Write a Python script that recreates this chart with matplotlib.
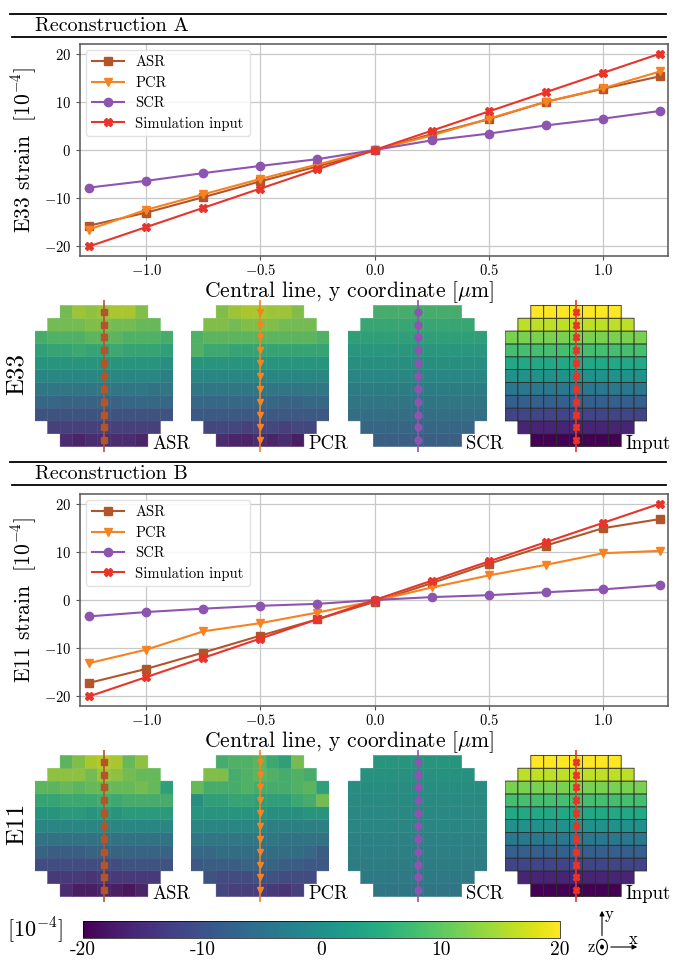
import numpy as np
import matplotlib
matplotlib.use('Agg')
import matplotlib.pyplot as plt
from matplotlib.lines import Line2D
from matplotlib.patches import Circle, FancyArrowPatch
from matplotlib.colors import ListedColormap

plt.rcParams['font.family'] = 'serif'
plt.rcParams['font.serif'] = ['cmr10']
plt.rcParams['mathtext.fontset'] = 'cm'
plt.rcParams['axes.formatter.use_mathtext'] = True

W, H = 676, 961

# ---- line chart data ----
y_coord = [-1.25, -1.0, -0.75, -0.5, -0.25, 0.0, 0.25, 0.5, 0.75, 1.0, 1.25]
sim_input = [-20, -16, -12, -8, -4, 0, 4, 8, 12, 16, 20]

asr_a = [-15.7, -13.0, -9.8, -6.5, -3.4, -0.1, 3.3, 6.4, 10.0, 12.7, 15.3]
pcr_a = [-16.5, -12.4, -9.2, -6.0, -3.0, 0.0, 3.0, 6.5, 10.0, 12.8, 16.3]
scr_a = [-7.8, -6.4, -4.8, -3.3, -1.9, 0.0, 2.0, 3.4, 5.1, 6.5, 8.1]

asr_b = [-17.2, -14.3, -10.9, -7.4, -4.0, -0.4, 3.5, 7.5, 11.3, 14.9, 16.8]
pcr_b = [-13.1, -10.3, -6.5, -4.8, -2.6, -0.2, 2.6, 5.1, 7.3, 9.7, 10.2]
scr_b = [-3.4, -2.5, -1.8, -1.2, -0.8, 0.0, 0.6, 1.0, 1.6, 2.2, 3.1]

# ---- strain maps, rows from top (y=1.25) to bottom, only cells inside the disk ----
map_a_asr = [
    [12, 15, 14, 15, 16, 16, 13],
    [12, 12, 12, 13, 13, 12, 12, 11, 11],
    [8, 9, 9, 9, 10, 10, 10, 9, 9, 9, 8],
    [5, 6, 6, 7, 6, 6, 7, 6, 6, 6, 5],
    [3, 3, 3, 3, 3, 3, 3, 3, 3, 3, 2],
    [0, 0, 0, 0, 0, 0, 0, 0, 0, 0, -1],
    [-3, -3, -3, -3, -3, -3, -3, -3, -3, -4, -3],
    [-6, -6, -7, -7, -7, -7, -7, -6, -6, -6, -6],
    [-10, -10, -10, -10, -10, -10, -10, -10, -10, -10, -10],
    [-13, -13, -13, -13, -13, -13, -13, -13, -13],
    [-16, -17, -16, -16, -16, -16, -17],
]
map_a_pcr = [
    [13, 15, 16, 16, 15, 15, 13],
    [13, 13, 12, 13, 13, 13, 12, 12, 12],
    [9, 10, 10, 10, 10, 10, 10, 10, 10, 10, 9],
    [9, 7, 7, 6, 6, 6, 6, 6, 6, 6, 6],
    [3, 3, 3, 3, 3, 3, 3, 3, 3, 3, 3],
    [0, 0, 0, 0, 0, 0, 0, 0, 0, 0, 0],
    [-3, -3, -3, -3, -3, -3, -3, -3, -3, -3, -3],
    [-6, -6, -6, -6, -6, -6, -6, -7, -7, -6, -6],
    [-9, -9, -9, -9, -9, -9, -9, -9, -9, -9, -9],
    [-12, -12, -12, -13, -12, -12, -13, -12, -12],
    [-16, -17, -17, -16, -17, -16, -18],
]
map_b_asr = [
    [10, 13, 16, 17, 16, 11, 14],
    [14, 14, 14, 12, 15, 14, 12, 11, 11],
    [10, 10, 11, 10, 11, 11, 11, 11, 12, 11, 5],
    [6, 6, 7, 7, 7, 8, 7, 8, 8, 8, 8],
    [3, 3, 4, 4, 3, 4, 3, 4, 4, 4, 4],
    [0, 0, 0, 0, 0, 0, 0, 0, 0, 0, 0],
    [-4, -4, -4, -4, -4, -4, -4, -4, -4, -4, -4],
    [-7, -8, -8, -8, -7, -7, -7, -7, -7, -7, -7],
    [-11, -11, -11, -11, -11, -11, -11, -10, -10, -10, -10],
    [-14, -14, -14, -15, -14, -14, -14, -14, -14],
    [-16, -18, -18, -17, -18, -19, -17],
]
map_b_pcr = [
    [8, 9, 9, 10, 7, 5, 12],
    [13, 13, 8, 9, 10, 9, 8, 9, 8],
    [11, 8, 8, 8, 9, 8, 8, 8, 9, 10, 5],
    [2, 5, 5, 6, 6, 5, 5, 5, 7, 8, 12],
    [3, 3, 3, 3, 3, 3, 2, 2, 2, 3, 3],
    [0, 0, 0, 0, 0, 0, -1, -1, -1, -1, -1],
    [-3, -3, -3, -3, -3, -3, -3, -4, -4, -4, -4],
    [-6, -6, -5, -5, -5, -5, -5, -5, -5, -6, -8],
    [-9, -8, -8, -8, -7, -7, -7, -8, -8, -9, -9],
    [-10, -11, -11, -11, -10, -10, -11, -11, -11],
    [-12, -13, -13, -13, -14, -15, -13],
]
row_len = [7, 9, 11, 11, 11, 11, 11, 11, 11, 9, 7]

c_asr = '#b3552b'
c_pcr = '#f7821f'
c_scr = '#8e55b0'
c_sim = '#e8342a'

# reconstructed maps look a bit duller than the input map
vir = plt.cm.viridis(np.linspace(0, 1, 256))
dull = vir.copy()
dull[:, :3] = 0.82 * vir[:, :3] + 0.18 * 0.33
cmap_dull = ListedColormap(dull)

fig = plt.figure(figsize=(W / 100, H / 100), dpi=100)


def box(l, t, r, b):
    return [l / W, 1 - b / H, (r - l) / W, (b - t) / H]


def hline(y, x0=10, x1=666):
    fig.add_artist(Line2D([x0 / W, x1 / W], [1 - y / H, 1 - y / H], color='k', lw=1.3))


def header(top, label):
    hline(top)
    fig.text(35 / W, 1 - (top + 12) / H, label, fontsize=14.5, va='center', ha='left')
    hline(top + 23, 12)


def line_chart(rect, comp, asr, pcr, scr):
    ax = fig.add_axes(rect)
    ax.plot(y_coord, asr, color=c_asr, marker='s', ms=6, lw=1.5, label='ASR')
    ax.plot(y_coord, pcr, color=c_pcr, marker='v', ms=6, lw=1.5, label='PCR')
    ax.plot(y_coord, scr, color=c_scr, marker='o', ms=6, lw=1.5, label='SCR')
    ax.plot(y_coord, sim_input, color=c_sim, marker='X', ms=6, lw=1.5, label='Simulation input')
    ax.set_xlim(-1.29, 1.285)
    ax.set_ylim(-22, 22)
    ax.set_xticks([-1.0, -0.5, 0.0, 0.5, 1.0])
    ax.set_yticks([-20, -10, 0, 10, 20])
    ax.grid(True, color='#c8c8c8', lw=0.9)
    ax.set_axisbelow(True)
    for s in ax.spines.values():
        s.set_color('#555555')
        s.set_linewidth(1.1)
    ax.tick_params(labelsize=10.5, color='#555555', length=3)
    ax.tick_params(axis='x', pad=2)
    ax.set_xlabel(r'Central line, y coordinate [$\mu$m]', fontsize=15.5)
    ax.xaxis.set_label_coords(0.458, -0.108)
    ax.set_ylabel(comp + r' strain  [10$^{-4}$]', fontsize=15.5, labelpad=3)
    ax.legend(loc='upper left', fontsize=10.5, framealpha=0.85, edgecolor='#dddddd',
              borderaxespad=0.4, handlelength=2.2, labelspacing=0.45)
    return ax


def fill_disk(rows):
    grid = np.full((11, 11), np.nan)
    for i, r in enumerate(rows):
        start = (11 - len(r)) // 2
        grid[i, start:start + len(r)] = r
    return grid[::-1]  # bottom row first


def strain_map(rect, rows, color, marker, label, edges=False):
    ax = fig.add_axes(rect)
    edges_x = np.linspace(-1.375, 1.375, 12)
    grid = np.ma.masked_invalid(fill_disk(rows))
    if edges:
        ax.pcolor(edges_x, edges_x, grid, cmap='viridis', vmin=-20, vmax=20,
                  edgecolors='#2a2a2a', linewidth=0.6)
    else:
        ax.pcolor(edges_x, edges_x, grid, cmap=cmap_dull, vmin=-20, vmax=20,
                  edgecolors='face', linewidth=0.3)
    ax.plot([0, 0], [-1.48, 1.48], color=color, lw=1.2)
    ax.plot([0] * len(y_coord), y_coord, ls='none', marker=marker, color=color, ms=5)
    ax.text(0.96, -1.43, label, fontsize=13.5, ha='left', va='baseline')
    ax.set_xlim(-1.375, 1.375)
    ax.set_ylim(-1.48, 1.48)
    ax.axis('off')
    return ax


map_x = [(35, 173), (191, 329), (348, 487), (505, 647)]


def map_row(top, comp, asr_rows, pcr_rows, scr_vals):
    bot = top + 140
    t, b = top - 6, bot + 6
    strain_map(box(map_x[0][0], t, map_x[0][1], b), asr_rows, c_asr, 's', 'ASR')
    strain_map(box(map_x[1][0], t, map_x[1][1], b), pcr_rows, c_pcr, 'v', 'PCR')
    scr_rows = [[v] * n for v, n in zip(scr_vals[::-1], row_len)]
    strain_map(box(map_x[2][0], t, map_x[2][1], b), scr_rows, c_scr, 'o', 'SCR')
    sim_rows = [[v] * n for v, n in zip(sim_input[::-1], row_len)]
    strain_map(box(map_x[3][0], t, map_x[3][1], b), sim_rows, c_sim, 'X', 'Input', edges=True)
    fig.text(17 / W, 1 - (top + 68) / H, comp, fontsize=18, rotation=90, ha='center', va='center')


# ---- Reconstruction A ----
header(14, 'Reconstruction A')
line_chart(box(80, 44, 668, 256), 'E33', asr_a, pcr_a, scr_a)
map_row(306, 'E33', map_a_asr, map_a_pcr, scr_a)

# ---- Reconstruction B ----
header(462, 'Reconstruction B')
line_chart(box(80, 494, 668, 706), 'E11', asr_b, pcr_b, scr_b)
map_row(756, 'E11', map_b_asr, map_b_pcr, scr_b)

# ---- colorbar ----
cax = fig.add_axes(box(83, 921, 560, 938))
sm = plt.cm.ScalarMappable(cmap='viridis', norm=plt.Normalize(-20, 20))
cb = fig.colorbar(sm, cax=cax, orientation='horizontal')
cb.set_ticks([-20, -10, 0, 10, 20])
cb.set_ticklabels(['-20', '-10', '0', '10', '20'])
cb.ax.tick_params(labelsize=14, length=0, pad=2)
cb.outline.set_linewidth(0.5)
fig.text(35 / W, 1 - 930 / H, r'[10$^{-4}$]', fontsize=16, ha='center', va='center')

# ---- coordinate system glyph ----
ox, oy = 602 / W, 1 - 947 / H
fig.add_artist(Circle((ox, oy), 0.008, transform=fig.transFigure, fill=False, lw=0.8, color='k'))
fig.add_artist(Circle((ox, oy), 0.0018, transform=fig.transFigure, color='k'))
fig.add_artist(FancyArrowPatch((ox, oy + 0.009), (ox, 1 - 908 / H), transform=fig.transFigure,
                               arrowstyle='-|>', mutation_scale=7, lw=0.8, color='k'))
fig.add_artist(FancyArrowPatch((ox + 0.009, oy), (640 / W, oy), transform=fig.transFigure,
                               arrowstyle='-|>', mutation_scale=7, lw=0.8, color='k'))
fig.text(609 / W, 1 - 914 / H, 'y', fontsize=12, ha='center', va='center')
fig.text(633 / W, 1 - 939 / H, 'x', fontsize=12, ha='center', va='center')
fig.text(591 / W, 1 - 947 / H, 'z', fontsize=12, ha='center', va='center')

fig.savefig('out.png', dpi=100)
